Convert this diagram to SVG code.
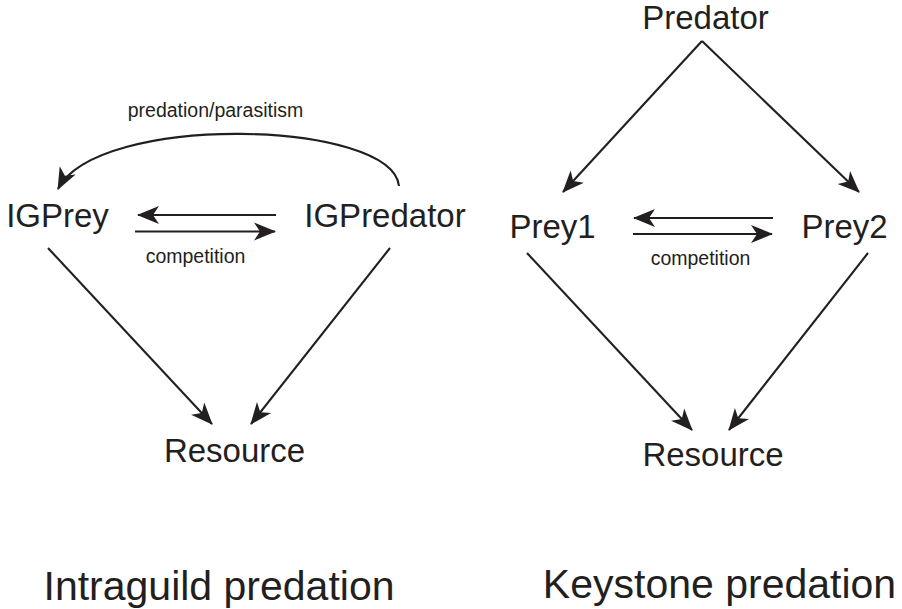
<svg xmlns="http://www.w3.org/2000/svg" width="902" height="609" viewBox="0 0 902 609">
<style>
  text { font-family: "Liberation Sans", Arial, sans-serif; fill: #231f20; text-anchor: middle; }
  .big { font-size: 33px; }
  .small { font-size: 19.5px; }
  .title { font-size: 41px; }
  .edge { fill: none; stroke: #231f20; stroke-width: 2.1; marker-end: url(#arrow); }
</style>
<defs>
  <marker id="arrow" markerUnits="userSpaceOnUse" markerWidth="26" markerHeight="22" viewBox="-23 -11 26 22" refX="0" refY="0" orient="auto" overflow="visible">
    <path d="M1,0 L-21,-9 L-15,0 L-21,9 Z" fill="#231f20"/>
  </marker>
</defs>
<rect width="902" height="609" fill="#ffffff"/>
<g id="connectors">
  <path class="edge" d="M399,186 C392,120 98,112 58,189"/>
  <path class="edge" d="M276,215 L138,215"/>
  <path class="edge" d="M135,231.5 L275,231.5"/>
  <path class="edge" d="M48,248 L212,424"/>
  <path class="edge" d="M390,248 L251,424"/>
  <path class="edge" d="M702,41 L563,192"/>
  <path class="edge" d="M702,41 L859,192"/>
  <path class="edge" d="M773,218 L634,218"/>
  <path class="edge" d="M633,234 L772,234"/>
  <path class="edge" d="M527,253 L692,430"/>
  <path class="edge" d="M868,253 L729,430"/>
</g>
<g id="labels">
  <text class="small" x="215.5" y="117">predation/parasitism</text>
  <text class="small" x="195.5" y="263">competition</text>
  <text class="small" x="700.5" y="265">competition</text>
</g>
<g id="node-igprey"><text class="big" x="57.5" y="227">IGPrey</text></g>
<g id="node-igpredator"><text class="big" x="385" y="227">IGPredator</text></g>
<g id="node-resource-left"><text class="big" x="234.5" y="462">Resource</text></g>
<g id="node-predator"><text class="big" x="705.5" y="29">Predator</text></g>
<g id="node-prey1"><text class="big" x="552.5" y="238">Prey1</text></g>
<g id="node-prey2"><text class="big" x="844.5" y="238">Prey2</text></g>
<g id="node-resource-right"><text class="big" x="713" y="466">Resource</text></g>
<g id="titles">
  <text class="title" x="219" y="600">Intraguild predation</text>
  <text class="title" x="719.5" y="598">Keystone predation</text>
</g>
</svg>
